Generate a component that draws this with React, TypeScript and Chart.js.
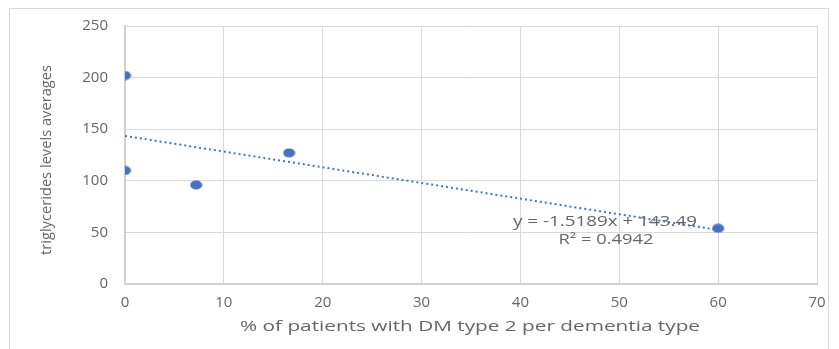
import React, { useEffect, useRef } from "react";
import { Chart, registerables } from "chart.js";

Chart.register(...registerables);

const xValues = [0, 0, 7.2, 16.6, 60];
const yValues = [202, 110, 96, 127, 54];
const slope = -1.5189;
const intercept = 143.49;
const trendX = [0, 60];
const equationText = "y = -1.5189x + 143.49";
const r2Text = "R² = 0.4942";
const xTitle = "% of patients with DM type 2 per dementia type";
const yTitle = "triglycerides levels averages";

const FONT = "'Open Sans', 'DejaVu Sans', sans-serif";
const TEXT = "#666666";

function fitText(ctx: CanvasRenderingContext2D, text: string, cx: number, cy: number, width: number, size: number, rot = 0) {
  ctx.save();
  ctx.font = `${size}px ${FONT}`;
  ctx.fillStyle = TEXT;
  ctx.textAlign = "center";
  ctx.textBaseline = "middle";
  const w = ctx.measureText(text).width;
  ctx.translate(cx, cy);
  if (rot) ctx.rotate(rot);
  ctx.scale(width / w, 1);
  ctx.fillText(text, 0, 0);
  ctx.restore();
}

function makeDot(): HTMLCanvasElement {
  const c = document.createElement("canvas");
  c.width = 13;
  c.height = 10;
  const g = c.getContext("2d")!;
  g.fillStyle = "#4472C4";
  g.beginPath();
  g.ellipse(6.5, 5, 6, 4.5, 0, 0, Math.PI * 2);
  g.fill();
  return c;
}

const decor = {
  id: "decor",
  afterDraw(chart: any) {
    const ctx = chart.ctx as CanvasRenderingContext2D;
    ctx.save();
    ctx.strokeStyle = "#d9d9d9";
    ctx.lineWidth = 1;
    ctx.strokeRect(9.5, 8.5, 819, 360);
    ctx.restore();
    fitText(ctx, xTitle, 470, 327, 460, 15);
    fitText(ctx, yTitle, 47, 160, 190, 14, -Math.PI / 2);
    fitText(ctx, equationText, 605, 222, 184, 14);
    fitText(ctx, r2Text, 606, 240, 95, 14);
  },
};

export default function App() {
  const ref = useRef<HTMLCanvasElement>(null);
  useEffect(() => {
    if (!ref.current) return;
    const dot = makeDot();
    const chart = new Chart(ref.current, {
      type: "scatter",
      data: {
        datasets: [
          {
            label: "data",
            data: xValues.map((x, i) => ({ x, y: yValues[i] })),
            backgroundColor: "#4472C4",
            borderColor: "#4472C4",
            pointStyle: dot as any,
            pointRadius: 5,
            pointHoverRadius: 5,
            order: 1,
          },
          {
            label: "trend",
            type: "line",
            data: trendX.map((x) => ({ x, y: slope * x + intercept })),
            borderColor: "#4472C4",
            borderWidth: 2,
            borderDash: [2, 3],
            pointRadius: 0,
            fill: false,
            order: 2,
          } as any,
        ],
      },
      options: {
        responsive: false,
        animation: false,
        events: [],
        layout: { padding: { left: 0, top: 25, right: 22, bottom: 0 } },
        plugins: { legend: { display: false }, tooltip: { enabled: false } },
        scales: {
          x: {
            type: "linear",
            min: 0,
            max: 70,
            ticks: { stepSize: 10, color: TEXT, font: { family: FONT, size: 15 }, padding: 10 },
            grid: { color: "#d9d9d9", drawTicks: false },
            border: { color: "#d0d0d0", width: 2 },
            afterFit: (s: any) => { s.height = 65; },
          },
          y: {
            min: 0,
            max: 250,
            ticks: { stepSize: 50, color: TEXT, font: { family: FONT, size: 15 }, padding: 17 },
            grid: { color: "#d9d9d9", drawTicks: false },
            border: { color: "#d0d0d0", width: 2 },
            afterFit: (s: any) => { s.width = 125; },
          },
        },
      },
      plugins: [decor],
    });
    return () => chart.destroy();
  }, []);
  return (
    <div style={{ position: "absolute", left: 0, top: 0, width: 839, height: 349, background: "#fff" }}>
      <canvas ref={ref} width={839} height={349} style={{ display: "block" }} />
    </div>
  );
}
